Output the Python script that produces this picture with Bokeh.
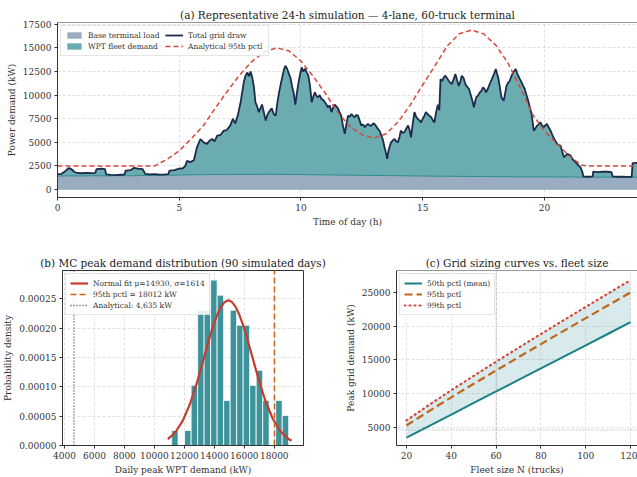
from bokeh.plotting import figure
from bokeh.layouts import column, row
from bokeh.models import FixedTicker, PrintfTickFormatter, Span, Legend, LegendItem, Range1d
from bokeh.embed import file_html
from bokeh.resources import INLINE

FONT = "DejaVu Serif"

# ---------------- (a) 24-h simulation ----------------
t_total = [0.00, 0.15, 0.30, 0.45, 0.55, 0.70, 0.80, 1.00, 1.20, 1.40, 1.55, 1.60, 1.80, 1.95, 2.00, 2.20, 2.40, 2.60,
           2.75, 2.80, 3.00, 3.15, 3.30, 3.50, 3.60, 3.80, 4.00, 4.20, 4.40, 4.55, 4.60, 4.80, 5.00, 5.15, 5.25, 5.32,
           5.45, 5.60, 5.73, 5.87, 6.00, 6.14, 6.25, 6.35, 6.45, 6.56, 6.70, 6.83, 6.95, 7.10, 7.20, 7.30, 7.40, 7.52,
           7.65, 7.72, 7.80, 7.87, 7.93, 8.00, 8.07, 8.13, 8.20, 8.27, 8.40, 8.48, 8.55, 8.62, 8.68, 8.80, 8.88, 8.96,
           9.03, 9.10, 9.17, 9.23, 9.30, 9.36, 9.43, 9.50, 9.57, 9.63, 9.70, 9.77, 9.83, 9.90, 9.97, 10.03, 10.10,
           10.17, 10.24, 10.30, 10.37, 10.44, 10.50, 10.57, 10.64, 10.70, 10.77, 10.84, 10.91, 10.98, 11.05, 11.10,
           11.18, 11.25, 11.32, 11.38, 11.45, 11.52, 11.58, 11.65, 11.72, 11.80, 11.87, 11.93, 12.00, 12.07, 12.14,
           12.20, 12.27, 12.34, 12.41, 12.48, 12.55, 12.62, 12.68, 12.75, 12.82, 12.89, 12.96, 13.02, 13.09, 13.16,
           13.23, 13.30, 13.37, 13.43, 13.50, 13.54, 13.60, 13.70, 13.77, 13.84, 13.91, 13.98, 14.05, 14.10, 14.18,
           14.25, 14.33, 14.40, 14.46, 14.52, 14.59, 14.66, 14.73, 14.80, 14.87, 14.93, 15.00, 15.07, 15.13, 15.20,
           15.28, 15.35, 15.42, 15.48, 15.55, 15.62, 15.68, 15.73, 15.80, 15.87, 15.93, 16.00, 16.07, 16.14, 16.20,
           16.27, 16.34, 16.41, 16.48, 16.55, 16.60, 16.68, 16.75, 16.82, 16.90, 16.95, 17.00, 17.05, 17.10, 17.15,
           17.20, 17.28, 17.35, 17.42, 17.48, 17.55, 17.60, 17.68, 17.75, 17.82, 17.90, 17.95, 18.00, 18.05, 18.10,
           18.17, 18.23, 18.28, 18.33, 18.39, 18.44, 18.50, 18.57, 18.64, 18.71, 18.77, 18.82, 18.87, 18.92, 18.99,
           19.06, 19.12, 19.19, 19.26, 19.33, 19.40, 19.47, 19.56, 19.63, 19.70, 19.77, 19.83, 19.90, 19.97, 20.03,
           20.10, 20.17, 20.25, 20.32, 20.40, 20.46, 20.52, 20.59, 20.66, 20.73, 20.80, 20.87, 20.93, 21.00, 21.07,
           21.13, 21.20, 21.27, 21.34, 21.41, 21.48, 21.55, 21.60, 21.80, 21.98, 22.00, 22.20, 22.40, 22.60, 22.75,
           22.80, 23.00, 23.20, 23.40, 23.58, 23.62, 24.00]
total_kw = [1600, 1650, 1900, 2250, 2200, 1850, 1750, 1720, 1750, 1730, 1750, 2150, 2200, 2150, 1600, 1550, 1520, 1560,
            1580, 2000, 2050, 2300, 2200, 2150, 1650, 1600, 1620, 1580, 1600, 1620, 2000, 2050, 2200, 2250, 2500, 3050,
            2900, 3100, 4500, 5350, 5000, 4830, 5200, 5350, 5100, 5700, 5800, 6240, 6300, 6800, 7500, 7000, 7800, 9240,
            11350, 12060, 12400, 12000, 12500, 11870, 10800, 9240, 8800, 8200, 9000, 8100, 7300, 7900, 8200, 8600, 8000,
            7830, 9200, 10300, 11200, 11880, 12700, 13120, 12800, 12300, 11800, 11000, 10200, 9000, 10200, 11350, 12300,
            12940, 12500, 12800, 12400, 12060, 11000, 9240, 9800, 10300, 9900, 9770, 10000, 9600, 9500, 9240, 9000, 8700,
            8900, 8200, 8700, 9000, 8800, 8600, 8200, 7830, 6800, 5890, 7000, 7830, 7700, 8000, 7800, 7650, 7900, 7830,
            7300, 6770, 6900, 6600, 6800, 6950, 6800, 6770, 7000, 6950, 6700, 6420, 6200, 5710, 5200, 4480, 3800, 3250,
            4200, 5000, 5200, 5360, 5100, 5000, 5600, 6240, 6000, 6070, 6500, 6770, 6300, 5530, 7000, 8200, 7700, 7470,
            7300, 7120, 7500, 7830, 8200, 8000, 7800, 7650, 7300, 7120, 8200, 9000, 8400, 11700, 11500, 11900, 12060,
            11800, 11500, 11300, 11180, 11700, 12240, 11600, 10980, 11500, 12060, 11800, 11180, 10900, 10650, 10200,
            9770, 9300, 8710, 9300, 9770, 10000, 10300, 10500, 10830, 10600, 10300, 10700, 11180, 11600, 12060, 12400,
            12770, 12300, 11880, 10800, 9770, 9600, 9420, 10300, 10980, 11300, 11500, 12000, 12400, 12600, 12770, 12400,
            12060, 11700, 11350, 11000, 10650, 10000, 9420, 8700, 8010, 6240, 6500, 6770, 6900, 7120, 6800, 6600, 6800,
            6950, 6600, 6240, 5800, 5360, 5100, 4830, 4700, 4650, 4000, 3420, 3600, 3770, 3700, 3600, 3300, 3070, 2900,
            2720, 2500, 2360, 1900, 1370, 1350, 1380, 1900, 1850, 1900, 1880, 1850, 1380, 1350, 1360, 1340, 1350, 2800,
            2850]

t_base = [0.0, 0.5, 1.0, 1.5, 2.0, 2.5, 3.0, 3.5, 4.0, 4.5, 5.0, 5.5, 6.0, 6.5, 7.0, 7.5, 8.0, 8.5, 9.0, 9.5, 10.0,
          10.5, 11.0, 11.5, 12.0, 12.5, 13.0, 13.5, 14.0, 14.5, 15.0, 15.5, 16.0, 16.5, 17.0, 17.5, 18.0, 18.5, 19.0,
          19.5, 20.0, 20.5, 21.0, 21.5, 22.0, 22.5, 23.0, 23.5, 24.0]
base_kw = [1420, 1450, 1430, 1460, 1440, 1470, 1450, 1480, 1490, 1510, 1530, 1560, 1570, 1590, 1580, 1600, 1590, 1610,
           1600, 1590, 1580, 1560, 1550, 1530, 1520, 1500, 1490, 1470, 1460, 1440, 1430, 1410, 1400, 1390, 1380, 1370,
           1360, 1350, 1340, 1340, 1330, 1320, 1320, 1310, 1310, 1300, 1300, 1300, 1300]

t_p95 = [0.0, 4.0, 4.5, 5.0, 5.5, 6.0, 6.5, 7.0, 7.5, 8.0, 8.5, 9.0, 9.5, 10.0, 10.5, 11.0, 11.5, 12.0, 12.5, 13.0,
         13.5, 14.0, 14.5, 15.0, 15.5, 16.0, 16.5, 17.0, 17.5, 18.0, 18.5, 19.0, 19.5, 20.0, 20.5, 21.0, 21.5, 21.75,
         24.0]
p95_kw = [2500, 2500, 3200, 4100, 5400, 6800, 8700, 10500, 12200, 13600, 14600, 15000, 14700, 13600, 12000, 10200,
          8200, 6700, 5800, 5450, 5900, 7200, 9000, 11100, 13100, 15200, 16500, 16900, 16500, 15300, 13400, 10800,
          8000, 6200, 4900, 3600, 2600, 2500, 2500]

# ---------------- (b) MC peak distribution ----------------
hist_edges = [11150, 11584, 12018, 12452, 12886, 13320, 13754, 14188, 14622, 15056, 15490, 15924, 16358, 16792,
              17226, 17660, 18094, 18528, 18962]
hist_counts = [1, 0, 1, 4, 9, 9, 11, 10, 3, 9, 8, 8, 4, 5, 3, 0, 3, 2]
n_days = 90
fit_x = [10900, 11400, 11900, 12400, 12900, 13400, 13650, 13900, 14150, 14400, 14650, 14930, 15150, 15400, 15650,
         15900, 16150, 16400, 16900, 17400, 17900, 18400, 18900, 19150]
fit_pdf = [1.094e-5, 2.261e-5, 4.245e-5, 7.233e-5, 1.121e-4, 1.577e-4, 1.805e-4, 2.017e-4, 2.200e-4, 2.342e-4,
           2.435e-4, 2.472e-4, 2.449e-4, 2.369e-4, 2.238e-4, 2.064e-4, 1.858e-4, 1.633e-4, 1.174e-4, 7.666e-5,
           4.549e-5, 2.451e-5, 1.199e-5, 8.10e-6]
p95_peak = 18012
analytical_peak = 4635

# ---------------- (c) sizing curves ----------------
fleet_n = [20, 30, 40, 50, 60, 70, 80, 90, 100, 110, 120]
p50_kw = [3500, 5210, 6920, 8630, 10340, 12050, 13760, 15470, 17180, 18890, 20600]
p95c_kw = [5298, 7412, 9463, 11473, 13454, 15413, 17356, 19284, 21200, 23106, 25004]
p99c_kw = [6045, 8326, 10519, 12653, 14747, 16811, 18849, 20868, 22870, 24858, 26833]

# ---------------- styling helpers ----------------
def style(p, title_size="10.5px"):
    p.title.text_font = FONT
    p.title.text_font_size = title_size
    p.title.text_font_style = "normal"
    p.title.text_color = "#222222"
    p.title.align = "center"
    p.title.standoff = 4
    for ax in list(p.xaxis) + list(p.yaxis):
        ax.axis_label_text_font = FONT
        ax.axis_label_text_font_size = "9px"
        ax.axis_label_text_font_style = "normal"
        ax.axis_label_text_color = "#333333"
        ax.major_label_text_font = FONT
        ax.major_label_text_font_size = "9px"
        ax.major_label_text_color = "#333333"
        ax.axis_line_color = "#333333"
        ax.major_tick_line_color = "#333333"
        ax.major_tick_in = 0
        ax.major_tick_out = 3
        ax.minor_tick_line_color = None
        ax.major_label_standoff = 3
        ax.axis_label_standoff = 3
    p.grid.grid_line_color = "#d8d8d8"
    p.grid.grid_line_dash = "3 2"
    p.grid.grid_line_width = 0.8
    p.background_fill_color = "white"
    p.border_fill_color = "white"


def make_legend(items, ncols=1, label_width=20):
    lg = Legend(items=items, location="top_left", ncols=ncols)
    lg.label_text_font = FONT
    lg.label_text_font_size = "7.5px"
    lg.label_text_color = "#333333"
    lg.label_height = 10
    lg.label_width = label_width
    lg.glyph_height = 8
    lg.glyph_width = 18
    lg.label_standoff = 5
    lg.spacing = 1
    lg.padding = 4
    lg.margin = 3
    lg.border_line_color = "#cccccc"
    lg.background_fill_alpha = 0.85
    return lg


# ---------------- (a) ----------------
p1 = figure(width=637, height=232, x_range=Range1d(0, 23.82), y_range=Range1d(-850, 17700),
            output_backend="svg", toolbar_location=None,
            title="(a) Representative 24-h simulation \u2014 4-lane, 60-truck terminal",
            min_border_left=57, min_border_right=0, min_border_top=22, min_border_bottom=35)
p1.outline_line_color = None
r_wpt = p1.varea(x=t_total, y1=0, y2=total_kw, fill_color="#6aacb0")
r_base = p1.varea(x=t_base, y1=0, y2=base_kw, fill_color="#9aadc0")
p1.line(t_base, base_kw, line_color="#2f8c90", line_width=1)
r_tot = p1.line(t_total, total_kw, line_color="#1c2b4b", line_width=1.8)
r_ana = p1.line(t_p95, p95_kw, line_color="#d64a3b", line_width=1.5, line_dash="5 3")
p1.add_layout(Span(location=17700, dimension="width", line_color="#333333", line_width=1))
p1.xaxis.ticker = FixedTicker(ticks=[0, 5, 10, 15, 20])
p1.yaxis.ticker = FixedTicker(ticks=[0, 2500, 5000, 7500, 10000, 12500, 15000, 17500])
p1.xaxis.axis_label = "Time of day (h)"
p1.yaxis.axis_label = "Power demand (kW)"
style(p1)
p1.add_layout(make_legend([
    LegendItem(label="Base terminal load", renderers=[r_base]),
    LegendItem(label="WPT fleet demand", renderers=[r_wpt]),
    LegendItem(label="Total grid draw", renderers=[r_tot]),
    LegendItem(label="Analytical 95th pctl", renderers=[r_ana]),
], ncols=2, label_width=76))

# ---------------- (b) ----------------
y2_lo, y2_hi = 0, 0.000298
p2 = figure(width=340, height=245, x_range=Range1d(3870, 19950), y_range=Range1d(y2_lo, y2_hi),
            output_backend="svg", toolbar_location=None,
            title="(b) MC peak demand distribution (90 simulated days)",
            min_border_left=56, min_border_right=37, min_border_top=38, min_border_bottom=32)
p2.outline_line_color = "#333333"
bw = [hist_edges[i + 1] - hist_edges[i] for i in range(len(hist_counts))]
dens = [c / (n_days * w) for c, w in zip(hist_counts, bw)]
p2.quad(left=hist_edges[:-1], right=hist_edges[1:], bottom=0, top=dens,
        fill_color="#3d9399", line_color="white", line_width=0.8)
r_fit = p2.line(fit_x, fit_pdf, line_color="#c63d2f", line_width=2.2)
r_p95 = p2.line([p95_peak, p95_peak], [y2_lo, y2_hi], line_color="#c8661c", line_width=1.5, line_dash="6 3")
r_an = p2.line([analytical_peak, analytical_peak], [y2_lo, y2_hi], line_color="#2c3d66", line_width=1.3,
               line_dash="1 2")
p2.xaxis.ticker = FixedTicker(ticks=[4000, 6000, 8000, 10000, 12000, 14000, 16000, 18000])
p2.yaxis.ticker = FixedTicker(ticks=[0, 0.00005, 0.0001, 0.00015, 0.0002, 0.00025])
p2.yaxis.formatter = PrintfTickFormatter(format="%.5f")
p2.xaxis.axis_label = "Daily peak WPT demand (kW)"
p2.yaxis.axis_label = "Probability density"
style(p2)
p2.add_layout(make_legend([
    LegendItem(label="Normal fit \u03bc=14930, \u03c3=1614", renderers=[r_fit]),
    LegendItem(label="95th pctl = 18012 kW", renderers=[r_p95]),
    LegendItem(label="Analytical: 4,635 kW", renderers=[r_an]),
]))

# ---------------- (c) ----------------
y3_hi = 28260
p3 = figure(width=297, height=245, x_range=Range1d(15.54, 123.1), y_range=Range1d(2330, y3_hi),
            output_backend="svg", toolbar_location=None,
            title="(c) Grid sizing curves vs. fleet size",
            min_border_left=56, min_border_right=0, min_border_top=38, min_border_bottom=32)
p3.outline_line_color = None
p3.varea(x=fleet_n, y1=p50_kw, y2=p99c_kw, fill_color="#1a8088", fill_alpha=0.17)
p3.add_layout(Span(location=60, dimension="height", line_color="#8a90a8", line_width=1, line_dash="1 2"))
p3.add_layout(Span(location=analytical_peak, dimension="width", line_color="#999999", line_width=1,
                   line_dash="1 2"))
r50 = p3.line(fleet_n, p50_kw, line_color="#1a8088", line_width=2)
r95 = p3.line(fleet_n, p95c_kw, line_color="#c0651a", line_width=2.2, line_dash="8 4")
r99 = p3.line(fleet_n, p99c_kw, line_color="#d04a3a", line_width=2.2, line_dash="1 4", line_cap="round")
p3.add_layout(Span(location=y3_hi, dimension="width", line_color="#333333", line_width=1))
p3.xaxis.ticker = FixedTicker(ticks=[20, 40, 60, 80, 100, 120])
p3.yaxis.ticker = FixedTicker(ticks=[5000, 10000, 15000, 20000, 25000])
p3.xaxis.axis_label = "Fleet size N (trucks)"
p3.yaxis.axis_label = "Peak grid demand (kW)"
style(p3)
p3.add_layout(make_legend([
    LegendItem(label="50th pctl (mean)", renderers=[r50]),
    LegendItem(label="95th pctl", renderers=[r95]),
    LegendItem(label="99th pctl", renderers=[r99]),
]))

layout = column(p1, row(p2, p3, spacing=0), spacing=0)
open("out.html", "w").write(file_html(layout, INLINE))
